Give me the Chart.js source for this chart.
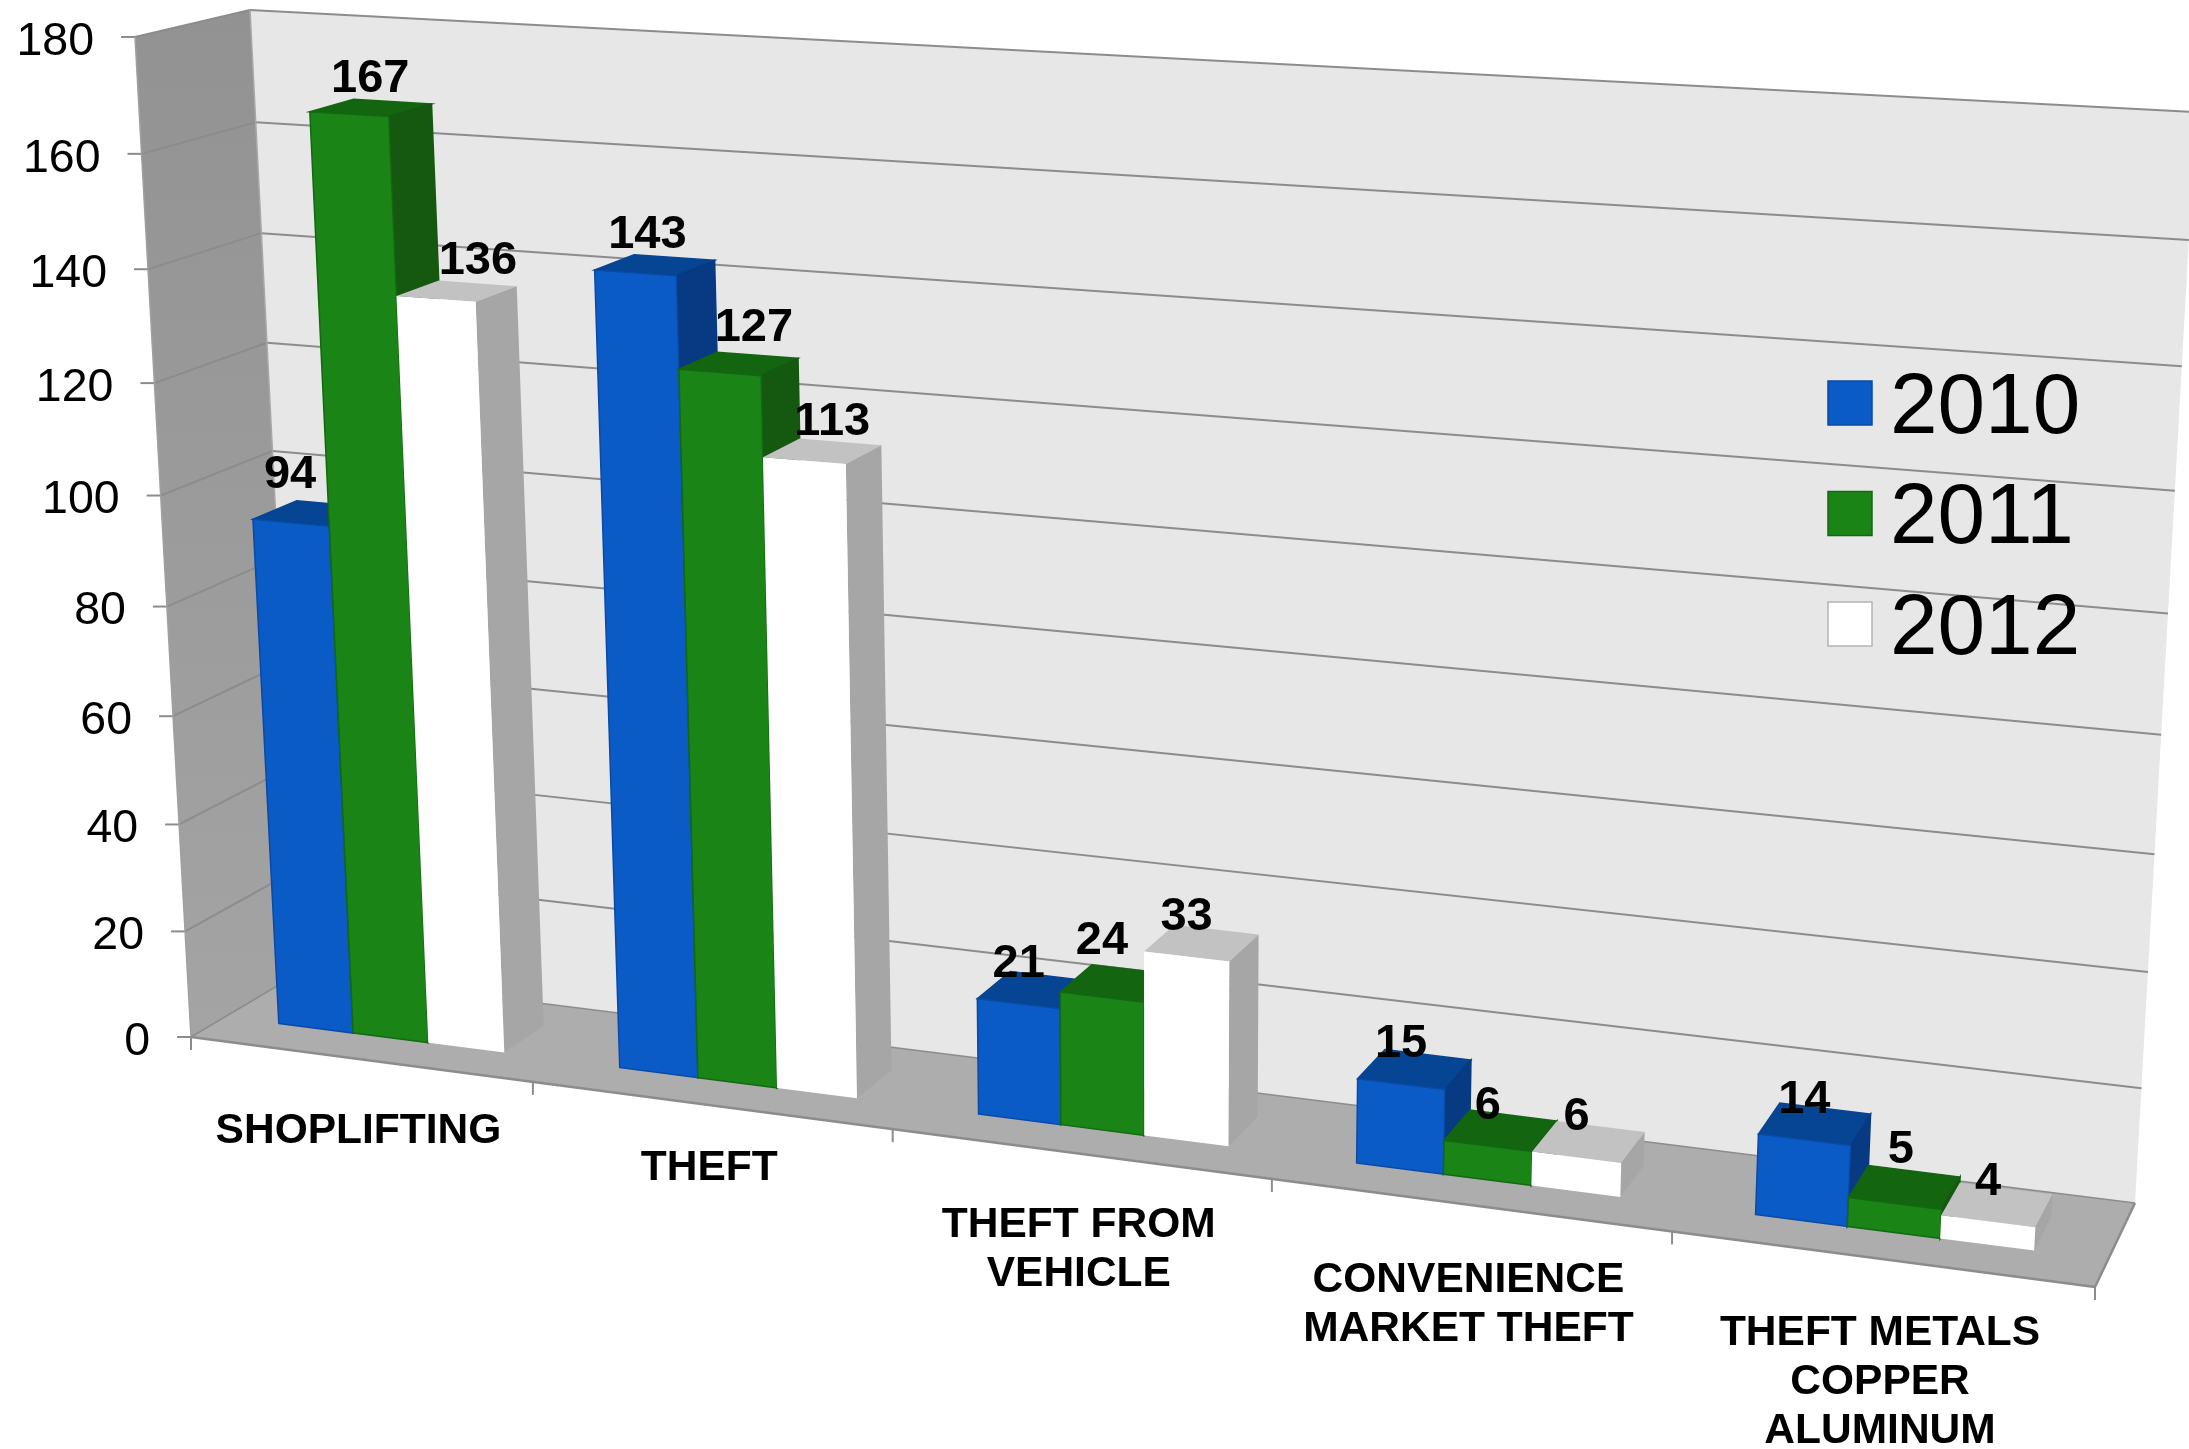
<!DOCTYPE html>
<html>
<head>
<meta charset="utf-8">
<style>
  html, body { margin: 0; padding: 0; background: #fff; }
  canvas { display: block; }
</style>
<script src="https://cdn.jsdelivr.net/npm/chart.js@4/dist/chart.umd.min.js"></script>
</head>
<body>
<canvas id="chart" width="2189" height="1449"></canvas>
<script>
const categories = [
  ["SHOPLIFTING"],
  ["THEFT"],
  ["THEFT FROM", "VEHICLE"],
  ["CONVENIENCE", "MARKET THEFT"],
  ["THEFT METALS", "COPPER", "ALUMINUM"],
];
const years = ["2010", "2011", "2012"];
const values2010 = [94, 143, 21, 15, 14];
const values2011 = [167, 127, 24, 6, 5];
const values2012 = [136, 113, 33, 6, 4];

// screen corners of the 3d box: bottom-left, bottom-right, top-right, top-left
const FRONT = [[191, 1037], [2095, 1287], [2159, 152], [135, 37]];
const BACK = [[299, 973], [2135, 1203], [2196, 112], [250, 10]];
const BAR_DEPTH = [0.32, 0.72];
const BAR_SHIFT = -2.5;

const FACES = [
  { front: "#0b5bc6", side: "#073a82", top: "#054594", line: "#0a4aa5" },
  { front: "#1a8417", side: "#14590f", top: "#136510", line: "#116a10" },
  { front: "#ffffff", side: "#a6a6a6", top: "#c2c2c2", line: null },
];
// hand placed offsets of the value labels in the original, per series
const LABEL_NUDGE = [
  [[-1, -8], [12, 2], [0, 0], [0, -1], [0, 0]],
  [[21, 4], [34, -5], [0, -17], [0, 0], [6, -14]],
  [[42, 2], [28, 1], [0, 0], [0, -1], [0, 0]],
];
const CATEGORY_DROP = [72, 63, 71, 75, 74];
const GRID = "#8c8c8c";

function quadMap(q) {
  const [[x0, y0], [x1, y1], [x2, y2], [x3, y3]] = q;
  const sx = x0 - x1 + x2 - x3, sy = y0 - y1 + y2 - y3;
  const dx1 = x1 - x2, dx2 = x3 - x2, dy1 = y1 - y2, dy2 = y3 - y2;
  const den = dx1 * dy2 - dx2 * dy1;
  const g = (sx * dy2 - dx2 * sy) / den;
  const h = (dx1 * sy - sx * dy1) / den;
  const a = x1 - x0 + g * x1, b = x3 - x0 + h * x3;
  const d = y1 - y0 + g * y1, e = y3 - y0 + h * y3;
  return (u, v) => {
    const w = g * u + h * v + 1;
    return [(a * u + b * v + x0) / w, (d * u + e * v + y0) / w];
  };
}

const frontMap = quadMap(FRONT);
const backMap = quadMap(BACK);

function polygon(ctx, pts, fill, line) {
  ctx.beginPath();
  pts.forEach((p, i) => (i ? ctx.lineTo(p[0], p[1]) : ctx.moveTo(p[0], p[1])));
  ctx.closePath();
  ctx.fillStyle = fill;
  ctx.fill();
  if (line) {
    ctx.strokeStyle = line;
    ctx.lineWidth = 1.5;
    ctx.stroke();
  }
}

function segment(ctx, a, b, color, width) {
  ctx.beginPath();
  ctx.moveTo(a[0], a[1]);
  ctx.lineTo(b[0], b[1]);
  ctx.strokeStyle = color;
  ctx.lineWidth = width;
  ctx.stroke();
}

const perspective = {
  id: "perspective",
  beforeDatasetsDraw(chart) {
    const { ctx, chartArea: area, scales } = chart;
    // flat chart pixel + depth (0 front, 1 back wall) to screen
    const project = (px, py, depth) => {
      const u = (px - area.left) / area.width;
      const v = (area.bottom - py) / area.height;
      const f = frontMap(u, v), b = backMap(u, v);
      return [f[0] + (b[0] - f[0]) * depth, f[1] + (b[1] - f[1]) * depth];
    };
    const yPx = (v) => scales.y.getPixelForValue(v);
    const yTop = yPx(scales.y.max), yBase = yPx(0);
    const { left, right } = area;

    ctx.save();

    // walls and floor
    const leftShade = ctx.createLinearGradient(0, 0, 0, 1037);
    leftShade.addColorStop(0, "#929292");
    leftShade.addColorStop(1, "#a4a4a4");
    polygon(ctx, [project(left, yBase, 0), project(left, yTop, 0), project(left, yTop, 1), project(left, yBase, 1)], leftShade);
    polygon(ctx, [project(left, yBase, 1), project(left, yTop, 1), project(right, yTop, 1), project(right, yBase, 1)], "#e7e7e7");
    polygon(ctx, [project(left, yBase, 0), project(right, yBase, 0), project(right, yBase, 1), project(left, yBase, 1)], "#adadad");

    // grid lines, tick marks and value axis labels
    ctx.font = "46.5px 'Liberation Sans'";
    ctx.textAlign = "right";
    ctx.textBaseline = "middle";
    scales.y.ticks.forEach((tick) => {
      const py = yPx(tick.value);
      const a = project(left, py, 0);
      const b = project(left, py, 1);
      const c = project(right, py, 1);
      if (tick.value > 0) {
        segment(ctx, a, b, GRID, 2);
        segment(ctx, b, c, GRID, 2);
      }
      segment(ctx, [a[0] - 14, a[1]], a, GRID, 2);
      ctx.fillStyle = "#000";
      ctx.fillText(tick.label, a[0] - 41, a[1] + 5);
    });
    segment(ctx, project(left, yTop, 0), project(left, yBase, 0), "#a0a0a0", 1.5);
    segment(ctx, project(left, yTop, 1), project(left, yBase, 1), "#a8a8a8", 1.5);
    segment(ctx, project(left, yBase, 0), project(right, yBase, 0), GRID, 2.5);
    segment(ctx, project(right, yBase, 0), project(right, yBase, 1), GRID, 2.5);
    segment(ctx, project(left, yBase, 0), project(left, yBase, 1), GRID, 1.5);
    segment(ctx, project(left, yBase, 1), project(right, yBase, 1), GRID, 1.5);

    // category ticks and labels
    const step = area.width / categories.length;
    for (let i = 0; i <= categories.length; i++) {
      const p = project(left + step * i, yBase, 0);
      segment(ctx, p, [p[0], p[1] + 13], GRID, 2);
    }
    ctx.font = "bold 42.5px 'Liberation Sans'";
    ctx.textAlign = "center";
    ctx.fillStyle = "#000";
    categories.forEach((lines, i) => {
      const a = project(left + step * i, yBase, 0);
      const b = project(left + step * (i + 1), yBase, 0);
      const cx = (a[0] + b[0]) / 2 - 3.5;
      const cy = (a[1] + b[1]) / 2 + CATEGORY_DROP[i];
      lines.forEach((line, n) => ctx.fillText(line, cx, cy + n * 49));
    });

    // bars, one box at a time from left to right
    const [d0, d1] = BAR_DEPTH;
    categories.forEach((_, i) => {
      chart.data.datasets.forEach((ds, s) => {
        const el = chart.getDatasetMeta(s).data[i];
        const x0 = el.x - el.width / 2 + BAR_SHIFT, x1 = el.x + el.width / 2 + BAR_SHIFT;
        const face = FACES[s];
        polygon(ctx, [project(x0, el.y, d0), project(x1, el.y, d0), project(x1, el.y, d1), project(x0, el.y, d1)], face.top, face.line && face.top);
        polygon(ctx, [project(x1, el.y, d0), project(x1, el.base, d0), project(x1, el.base, d1), project(x1, el.y, d1)], face.side, face.line && face.side);
        polygon(ctx, [project(x0, el.base, d0), project(x1, el.base, d0), project(x1, el.y, d0), project(x0, el.y, d0)], face.front, face.line);
      });
    });

    // value labels
    ctx.font = "bold 47px 'Liberation Sans'";
    ctx.fillStyle = "#000";
    chart.data.datasets.forEach((ds, s) => {
      ds.data.forEach((value, i) => {
        const el = chart.getDatasetMeta(s).data[i];
        const p = project(el.x + BAR_SHIFT, el.y, d0);
        const n = LABEL_NUDGE[s][i];
        ctx.fillText(value, p[0] + n[0], p[1] - 39.5 + n[1]);
      });
    });

    // legend
    ctx.textAlign = "left";
    ctx.font = "85.5px 'Liberation Sans'";
    chart.data.datasets.forEach((ds, s) => {
      const y = 403 + s * 110.5;
      ctx.fillStyle = ds.backgroundColor;
      ctx.fillRect(1828, y - 22, 44, 44);
      ctx.strokeStyle = s === 2 ? "#b4b4b4" : ds.borderColor;
      ctx.lineWidth = 1.5;
      ctx.strokeRect(1828, y - 22, 44, 44);
      ctx.fillStyle = "#000";
      ctx.fillText(ds.label, 1890, y + 6);
    });

    ctx.restore();
    return false;
  },
};

new Chart(document.getElementById("chart"), {
  type: "bar",
  data: {
    labels: categories,
    datasets: [values2010, values2011, values2012].map((data, s) => ({
      label: years[s],
      data,
      backgroundColor: FACES[s].front,
      borderColor: FACES[s].line || FACES[s].front,
      barPercentage: 1,
      categoryPercentage: 0.667,
    })),
  },
  options: {
    responsive: false,
    animation: false,
    layout: { padding: 0 },
    plugins: { legend: { display: false }, tooltip: { enabled: false } },
    scales: {
      x: { display: false },
      y: { display: false, min: 0, max: 180, ticks: { stepSize: 20 } },
    },
  },
  plugins: [perspective],
});
</script>
</body>
</html>
